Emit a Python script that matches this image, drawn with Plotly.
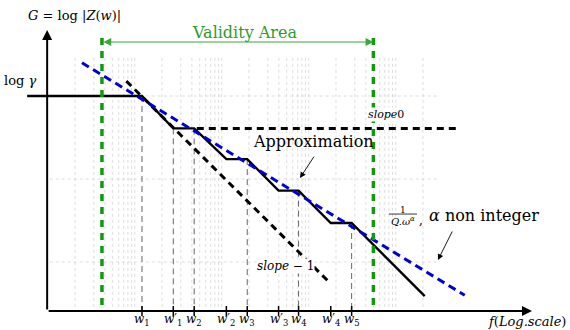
import numpy as np
import plotly.graph_objects as go

# ---------------- data ----------------
# x values: log10 of the frequency (decades), y values: G = log|Z(w)|
break_labels = ["<i>w</i><sub>1</sub>", "<i>w</i>′<sub>1</sub>", "<i>w</i><sub>2</sub>",
                "<i>w</i>′<sub>2</sub>", "<i>w</i><sub>3</sub>", "<i>w</i>′<sub>3</sub>",
                "<i>w</i><sub>4</sub>", "<i>w</i>′<sub>4</sub>", "<i>w</i><sub>5</sub>"]
break_logw = [0.77, 1.13, 1.37, 1.74, 1.98, 2.34, 2.57, 2.94, 3.18]
drop_break_idx = [0, 1, 2, 4, 6, 8]          # w1, w'1, w2, w3, w4, w5

approx_logw = [-0.55, 0.77, 1.13, 1.37, 1.74, 1.98, 2.34, 2.57, 2.94, 3.18, 4.02]
approx_G = [2.00, 2.00, 1.61, 1.61, 1.24, 1.24, 0.86, 0.86, 0.47, 0.47, -0.41]

frac_logw = [0.08, 4.48]          # 1/(Q w^alpha), alpha non integer
frac_G = [2.40, -0.40]
slope0_logw = [1.40, 4.39]
slope0_G = [1.61, 1.61]
slope_m1_logw = [0.59, 2.90]
slope_m1_G = [2.18, -0.22]
validity_logw = [0.31, 3.43]

grid_decades = [0, 1, 2, 3]
grid_last = 4.0
grid_G = [0, 1, 2]

# ---------------- layout constants ----------------
W, H = 570, 330
X_RANGE = [-0.862, 5.690]
Y_RANGE = [-0.819, 3.157]
AX_X = -0.32          # position of the vertical axis
AX_Y = -0.59          # position of the horizontal axis
SERIF = "DejaVu Serif"
GREEN = "#109a10"
BLUE = "#0000d2"

fig = go.Figure()

def seg_trace(xs, ys, color, width, dash="solid"):
    fig.add_trace(go.Scatter(x=xs, y=ys, mode="lines", hoverinfo="skip",
                             line=dict(color=color, width=width, dash=dash),
                             showlegend=False))

# log grid (dotted, faint)
gx, gy = [], []
for d in grid_decades:
    for m in range(1, 10):
        xv = d + 0.72 * np.log10(m)
        gx += [xv, xv, None]
        gy += [2.46, AX_Y, None]
gx += [grid_last, grid_last, None]
gy += [2.46, AX_Y, None]
for g in grid_G:
    gx += [-0.29, 4.16, None]
    gy += [g, g, None]
seg_trace(gx, gy, "#d4d4d4", 0.8, "dot")

# drop lines from the break points
dx, dy = [], []
for i in drop_break_idx:
    xv = break_logw[i]
    top = float(np.interp(xv, approx_logw, approx_G))
    dx += [xv, xv, None]
    dy += [top, AX_Y, None]
seg_trace(dx, dy, "#666666", 1, "6px,4px")

# asymptotes
seg_trace(slope_m1_logw, slope_m1_G, "black", 3, "7px,5px")
seg_trace(slope0_logw, slope0_G, "black", 3, "7px,5px")

# approximation
seg_trace(approx_logw, approx_G, "black", 2.4)

# fractional-order line
seg_trace(frac_logw, frac_G, BLUE, 3, "8px,5px")

# validity limits
vx, vy = [], []
for xv in validity_logw:
    vx += [xv, xv, None]
    vy += [2.70, AX_Y, None]
seg_trace(vx, vy, GREEN, 3.5, "7px,6px")

# x-axis ticks
tx, ty = [], []
for xv in break_logw:
    tx += [xv, xv, None]
    ty += [AX_Y - 0.06, AX_Y + 0.06, None]
seg_trace(tx, ty, "black", 1.5)

ann = []

def arrow(x, y, ax, ay, color="black", width=1.0, head=2, size=1.0, side="end"):
    ann.append(dict(x=x, y=y, ax=ax, ay=ay, xref="x", yref="y", axref="x", ayref="y",
                    text="", showarrow=True, arrowhead=head, arrowsize=size,
                    arrowwidth=width, arrowcolor=color, arrowside=side, standoff=0,
                    startstandoff=0))

def label(x, y, text, size=14, color="black", xanchor="center", bg=None):
    d = dict(x=x, y=y, xref="x", yref="y", text=text, showarrow=False,
             xanchor=xanchor, yanchor="middle",
             font=dict(family=SERIF, size=size, color=color))
    if bg:
        d["bgcolor"] = bg
        d["borderpad"] = 0
    ann.append(d)

# axes
arrow(5.253, AX_Y, AX_X, AX_Y, width=2, head=2, size=1.0)
arrow(AX_X, 2.795, AX_X, AX_Y, width=2, head=2, size=1.0)

# validity double arrow
arrow(validity_logw[1], 2.651, validity_logw[0], 2.651, color="#3aa83a",
      width=1.2, head=2, size=1.3, side="end+start")
label(1.954, 2.771, "Validity Area", 16, "#2c9c2c")

# texts
label(0.0, 2.976, "<i>G</i> = log |<i>Z</i>(<i>w</i>)|", 13)
label(-0.632, 2.193, "log <i>γ</i>", 13)
label(3.575, 1.783, "<i>slope</i>0", 11, bg="white")
label(2.747, 1.458, "Approximation", 16)
arrow(2.586, 1.012, 2.759, 1.289, width=0.9, head=2, size=1.3)
label(2.42, -0.048, "<i>slope</i> − 1", 12, bg="white")

# 1/(Q.w^alpha) fraction
label(3.770, 0.627, "1", 9)
fig.add_trace(go.Scatter(x=[3.609, 3.931], y=[0.578, 0.578], mode="lines",
                         hoverinfo="skip", showlegend=False,
                         line=dict(color="black", width=0.8)))
label(3.770, 0.500, "<i>Q.ω<sup>α</sup></i>", 10)
label(3.975, 0.51, ",", 12)
label(4.05, 0.566, "<i>α</i> non integer", 16, xanchor="left")
arrow(4.172, 0.024, 4.345, 0.386, width=0.9, head=2, size=1.3)

# x tick labels
for xv, t in zip(break_logw, break_labels):
    label(xv, -0.70, t, 12)
label(5.667, -0.72, "<i>f</i>(<i>Log.scale</i>)", 13, xanchor="right")

fig.update_layout(
    width=W, height=H, autosize=False,
    margin=dict(l=0, r=0, t=0, b=0),
    paper_bgcolor="white", plot_bgcolor="white",
    font=dict(family=SERIF),
    xaxis=dict(range=X_RANGE, visible=False, fixedrange=True),
    yaxis=dict(range=Y_RANGE, visible=False, fixedrange=True),
    annotations=ann,
    showlegend=False,
)

fig.write_html("out.html")
